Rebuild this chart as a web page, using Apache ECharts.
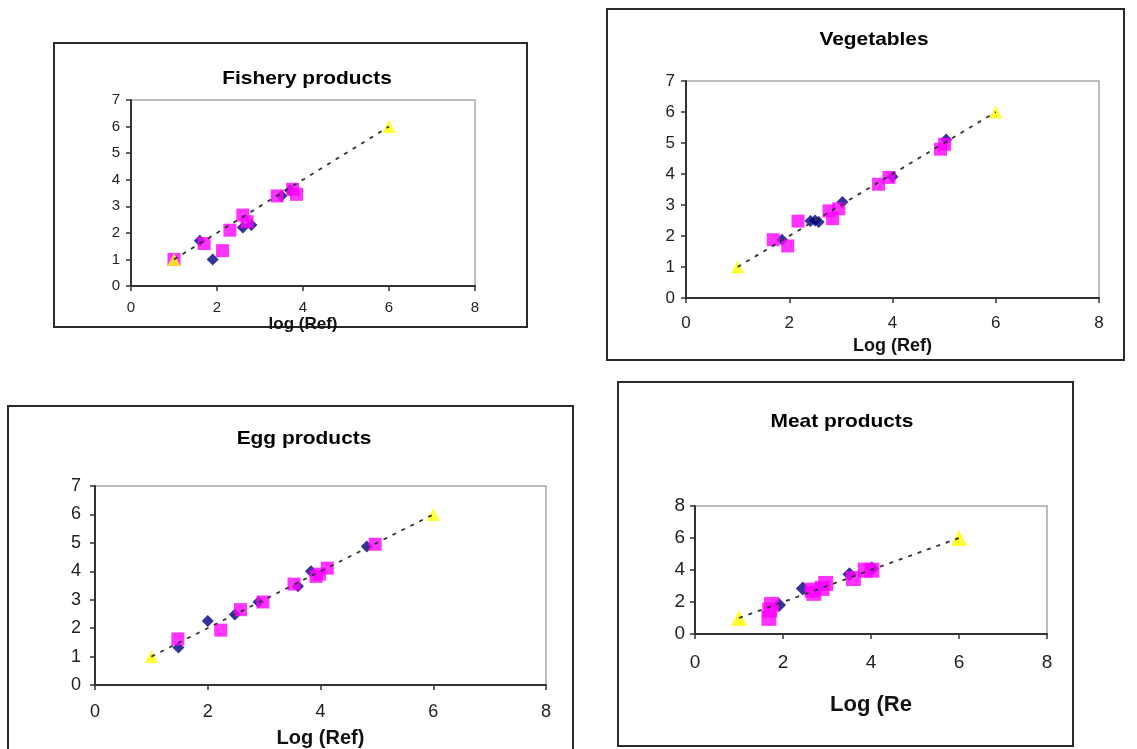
<!DOCTYPE html>
<html><head><meta charset="utf-8">
<script src="https://cdn.jsdelivr.net/npm/echarts@6/dist/echarts.min.js"></script>
<style>html,body{margin:0;padding:0;background:#fff}#c{width:1137px;height:749px}</style>
</head><body><div id="c"></div>
<script>
// ---- data ----
const panelTitles = ['Fishery products', 'Vegetables', 'Egg products', 'Meat products'];
const xAxisNames = ['log (Ref)', 'Log (Ref)', 'Log (Ref)', 'Log (Re'];
const refPoints = [[1, 1], [6, 6]];

const fisheryBlue = [[1.9, 1.0], [1.6, 1.7], [2.6, 2.2], [2.8, 2.3], [3.5, 3.4], [3.7, 3.6]];
const fisheryMagenta = [[1.0, 1.0], [1.7, 1.6], [2.13, 1.33], [2.3, 2.1], [2.6, 2.67], [2.7, 2.42], [3.4, 3.39], [3.76, 3.64], [3.85, 3.45]];

const vegBlue = [[1.86, 1.88], [2.41, 2.48], [2.5, 2.5], [2.57, 2.45], [3.03, 3.1], [4.0, 3.91], [5.04, 5.11]];
const vegMagenta = [[1.69, 1.88], [1.97, 1.68], [2.17, 2.48], [2.77, 2.81], [2.84, 2.56], [2.96, 2.88], [3.73, 3.67], [3.93, 3.89], [4.93, 4.8], [5.01, 4.96]];

const eggBlue = [[1.48, 1.32], [2.0, 2.25], [2.48, 2.48], [2.9, 2.92], [3.6, 3.47], [3.83, 4.0], [4.82, 4.87]];
const eggMagenta = [[1.47, 1.62], [2.23, 1.93], [2.58, 2.65], [2.98, 2.92], [3.53, 3.55], [3.92, 3.82], [3.98, 3.9], [4.12, 4.11], [4.97, 4.95]];

const meatBlue = [[1.91, 1.81], [2.45, 2.85], [3.51, 3.74], [4.02, 4.1]];
const meatMagenta = [[1.68, 0.98], [1.7, 1.5], [1.74, 1.85], [2.66, 2.74], [2.7, 2.54], [2.89, 2.85], [2.97, 3.16], [3.6, 3.47], [3.87, 3.99], [4.02, 3.99]];

const xTickMax = [8, 8, 8, 8];
const yTickMax = [7, 7, 7, 8];
const yTickStep = [1, 1, 1, 2];

// ---- layout ----
const grids = [
  {left: 131, top: 100, width: 344, height: 186},
  {left: 686, top: 81, width: 413, height: 217},
  {left: 95, top: 486, width: 451, height: 200},
  {left: 695, top: 506, width: 352, height: 128}
];
const frames = [
  [54, 43, 473, 284],
  [607, 9, 517, 351],
  [8, 406, 565, 350],
  [618, 382, 455, 364]
];
const titlePos = [[307, 79], [874, 40], [304, 439], [842, 422]];
const titleSize = [19, 19, 19, 19];
const tickSize = [15, 17, 18, 19];
const nameSize = [17, 18, 20, 22];
const xMargin = [14, 17, 18, 19];
const yMargin = [11, 11, 14, 10];
const nameGap = [18, 39, 43, 60];
const sym = [
  {d: 12, s: 13, t: 13},
  {d: 12, s: 13, t: 13},
  {d: 12, s: 13, t: 13},
  {d: 14, s: 15, t: 16}
];
const blues = [fisheryBlue, vegBlue, eggBlue, meatBlue];
const mags = [fisheryMagenta, vegMagenta, eggMagenta, meatMagenta];

const FONT = 'Liberation Sans, Arial, sans-serif';
const option = {
  animation: false,
  backgroundColor: '#fff',
  grid: grids.map(g => Object.assign({show: true, borderColor: '#a8a8a8', borderWidth: 1.5, backgroundColor: 'transparent', containLabel: false}, g)),
  xAxis: grids.map((g, i) => ({
    gridIndex: i, type: 'value', min: 0, max: xTickMax[i], interval: 2,
    axisLine: {show: true, onZero: false, lineStyle: {color: '#333', width: 2}},
    axisTick: {show: true, length: 5, lineStyle: {color: '#333', width: 1.5}},
    splitLine: {show: false},
    axisLabel: {fontSize: tickSize[i], color: '#222', margin: xMargin[i], fontFamily: FONT},
    name: xAxisNames[i], nameLocation: 'middle', nameGap: nameGap[i],
    nameTextStyle: {fontWeight: 'bold', fontSize: nameSize[i], color: '#111', fontFamily: FONT}
  })),
  yAxis: grids.map((g, i) => ({
    gridIndex: i, type: 'value', min: 0, max: yTickMax[i], interval: yTickStep[i],
    axisLine: {show: true, onZero: false, lineStyle: {color: '#333', width: 2}},
    axisTick: {show: true, length: 5, lineStyle: {color: '#333', width: 1.5}},
    splitLine: {show: false},
    axisLabel: {fontSize: tickSize[i], color: '#222', margin: yMargin[i], fontFamily: FONT}
  })),
  graphic: [],
  series: []
};
frames.forEach(f => option.graphic.push({
  type: 'rect', z: -10, silent: true,
  shape: {x: f[0], y: f[1], width: f[2], height: f[3]},
  style: {fill: 'none', stroke: '#2a2a2a', lineWidth: 2}
}));
titlePos.forEach((p, i) => option.graphic.push({
  type: 'text', x: p[0], y: p[1], scaleX: 1.1, silent: true,
  style: {text: panelTitles[i], font: 'bold ' + titleSize[i] + 'px ' + FONT, fill: '#000', align: 'center', verticalAlign: 'middle'}
}));
for (let i = 0; i < 4; i++) {
  option.series.push({type: 'scatter', xAxisIndex: i, yAxisIndex: i, data: blues[i], symbol: 'diamond', symbolSize: sym[i].d, itemStyle: {color: '#000080'}, z: 2});
  option.series.push({type: 'scatter', xAxisIndex: i, yAxisIndex: i, data: mags[i], symbol: 'rect', symbolSize: sym[i].s, itemStyle: {color: '#ff00ff'}, z: 3});
  option.series.push({type: 'scatter', xAxisIndex: i, yAxisIndex: i, data: refPoints, symbol: 'triangle', symbolSize: sym[i].t, itemStyle: {color: '#ffff00'}, z: 4});
  option.series.push({type: 'line', xAxisIndex: i, yAxisIndex: i, data: refPoints, showSymbol: false, symbol: 'none', lineStyle: {color: '#333', width: 1.8, type: [4, 6]}, z: 5});
}
const chart = echarts.init(document.getElementById('c'), null, {renderer: 'canvas'});
chart.setOption(option);
</script>
</body></html>
